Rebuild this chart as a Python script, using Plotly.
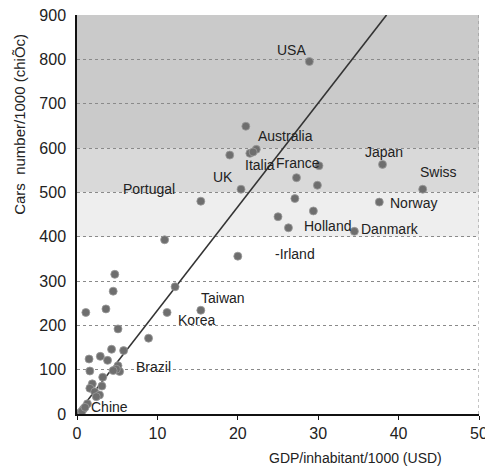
import plotly.graph_objects as go

# GDP per inhabitant (thousand USD) and cars per 1000 inhabitants
gdp = [4.7, 4.5, 1.1, 3.6, 12.2, 11.2, 15.4, 5.1, 8.9, 4.3, 5.8, 1.5, 2.9, 3.8,
       1.6, 5.1, 5.3, 4.9, 4.5, 3.2, 3.1, 1.9, 1.6, 2.2, 2.8, 2.4, 1.3, 0.8, 0.4,
       0.6, 1.0, 10.9, 20.0, 21.0, 19.0, 21.5, 22.3, 21.9, 20.4, 15.4, 27.3,
       30.1, 29.9, 27.1, 29.4, 25.0, 26.3, 38.0, 43.0, 37.6, 34.5, 28.9]
cars = [315, 277, 229, 237, 287, 229, 234, 192, 171, 146, 143, 124, 130, 121,
        97, 109, 96, 101, 98, 83, 63, 68, 58, 50, 43, 39, 23, 11, 3,
        6, 15, 393, 356, 649, 584, 588, 597, 591, 507, 480, 533,
        560, 516, 486, 458, 445, 420, 563, 507, 478, 412, 795]

# Country labels and where they sit (data coordinates)
label_names = ["USA", "Australia", "Japan", "Italia", "France", "Swiss", "Norway",
               "Holland", "Danmark", "-Irland", "UK", "Portugal", "Taiwan",
               "Korea", "Brazil", "Chine"]
label_x = [26.7, 25.9, 38.2, 22.8, 27.5, 44.9, 41.8, 31.1, 38.9, 27.1, 18.2,
           8.9, 18.2, 14.9, 9.5, 4.1]
label_y = [820, 626, 591, 561, 566, 546, 475, 424, 418, 360, 535, 507, 262,
           211, 107, 16]

# Trend line end points
trend_x = [0, 38.5]
trend_y = [0, 900]

# Shaded bands (y ranges)
band_lo = [600, 500, 400]
band_hi = [900, 600, 500]
band_col = ["#cacaca", "#d9d9d9", "#eeeeee"]

x_ticks = [0, 10, 20, 30, 40, 50]
y_ticks = [0, 100, 200, 300, 400, 500, 600, 700, 800, 900]

FONT = "Liberation Sans, Arial, sans-serif"

fig = go.Figure()
fig.add_trace(go.Scatter(x=trend_x, y=trend_y, mode="lines",
                         line=dict(color="#333333", width=1.6),
                         hoverinfo="skip", showlegend=False))
fig.add_trace(go.Scatter(x=gdp, y=cars, mode="markers",
                         marker=dict(size=8, color="#6e6e6e",
                                     line=dict(color="#9a9a9a", width=0.8)),
                         showlegend=False))

shapes = []
for lo, hi, c in zip(band_lo, band_hi, band_col):
    shapes.append(dict(type="rect", xref="x", yref="y", x0=0, x1=50, y0=lo, y1=hi,
                       fillcolor=c, line=dict(width=0), layer="below"))
# right border
shapes.append(dict(type="line", xref="x", yref="y", x0=50, x1=50, y0=0, y1=900,
                   line=dict(color="#888888", width=1, dash="dot")))

annotations = []
for n, x, y in zip(label_names, label_x, label_y):
    annotations.append(dict(x=x, y=y, xref="x", yref="y", text=n, showarrow=False,
                            font=dict(family=FONT, size=14, color="#222222")))
annotations.append(dict(x=0.692, y=-0.11, xref="paper", yref="paper",
                        text="GDP/inhabitant/1000 (USD)", showarrow=False,
                        xanchor="center", yanchor="middle",
                        font=dict(family=FONT, size=14, color="#222222")))
annotations.append(dict(x=-0.142, y=0.727, xref="paper", yref="paper",
                        text="Cars  number/1000 (chiÕc)", showarrow=False,
                        textangle=-90, xanchor="center", yanchor="middle",
                        font=dict(family=FONT, size=15, color="#222222")))

# page body adds an 8px offset, so the figure is sized/margined to compensate
fig.update_layout(
    width=493, height=458,
    margin=dict(l=69, r=22, t=7, b=52, autoexpand=False),
    paper_bgcolor="white", plot_bgcolor="white",
    shapes=shapes, annotations=annotations,
    font=dict(family=FONT, color="#222222"),
    xaxis=dict(range=[0, 50], tickvals=x_ticks, showgrid=False, zeroline=False,
               showline=True, linecolor="#111111", linewidth=1.5,
               ticks="outside", ticklen=4, tickcolor="#111111",
               ticklabeloverflow="allow", automargin=False,
               tickfont=dict(family=FONT, size=16, color="#222222")),
    yaxis=dict(range=[0, 900], tickvals=y_ticks, showgrid=True,
               gridcolor="#8a8a8a", griddash="dot", gridwidth=1, zeroline=False,
               showline=True, linecolor="#111111", linewidth=1.5, ticks="",
               ticklabelstandoff=6, ticklabeloverflow="allow", automargin=False,
               tickfont=dict(family=FONT, size=16, color="#222222")),
)

fig.write_html("out.html")
